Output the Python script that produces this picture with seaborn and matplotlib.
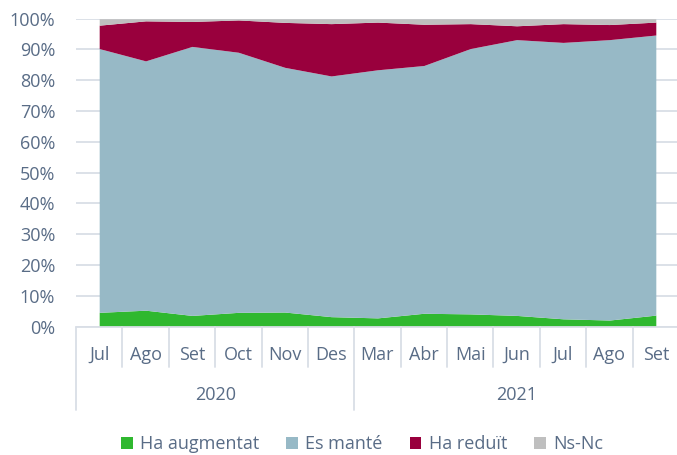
import matplotlib
matplotlib.use("Agg")
import matplotlib.pyplot as plt
import matplotlib.transforms as mtransforms
from matplotlib.patches import Patch
import seaborn as sns
import numpy as np

months = ["Jul", "Ago", "Set", "Oct", "Nov", "Des", "Mar", "Abr", "Mai", "Jun", "Jul", "Ago", "Set"]
years = ["2020", "2021"]
year_counts = [6, 7]

ha_augmentat = [4.6, 5.3, 3.6, 4.6, 4.7, 3.2, 2.8, 4.3, 4.1, 3.6, 2.5, 2.1, 3.7]
es_mante = [85.7, 81.0, 87.4, 84.5, 79.5, 78.2, 80.6, 80.5, 86.2, 89.6, 89.8, 91.1, 91.0]
ha_reduit = [7.6, 13.0, 8.1, 10.5, 14.6, 17.0, 15.5, 13.4, 8.1, 4.5, 6.1, 4.9, 4.2]
ns_nc = [2.1, 0.7, 0.9, 0.4, 1.2, 1.6, 1.1, 1.8, 1.6, 2.3, 1.6, 1.9, 1.1]

series_names = ["Ha augmentat", "Es manté", "Ha reduït", "Ns-Nc"]
colors = ["#2FB82F", "#97B9C6", "#99003D", "#BFBFBF"]

sns.set_theme(style="white")
plt.rcParams["font.family"] = ["Open Sans", "DejaVu Sans"]
text_color = "#596C86"
grid_color = "#D9DEE6"
fs = 13

W, H = 677, 455
fig = plt.figure(figsize=(W / 100, H / 100), dpi=100)
ax_left, ax_bottom, ax_top = 76, 326.5, 18.7
ax = fig.add_axes([ax_left / W, (H - ax_bottom) / H, 1 - ax_left / W, (ax_bottom - ax_top) / H])

x = np.arange(len(months))
ax.stackplot(x, ha_augmentat, es_mante, ha_reduit, ns_nc, colors=colors, linewidth=0)

ax.set_xlim(-0.5, 12.5 - (679 - W) / 46.4)
ax.set_ylim(0, 100)
ax.set_yticks(np.arange(0, 101, 10))
ax.set_yticklabels([f"{v}%" for v in range(0, 101, 10)], color=text_color, fontsize=fs)
ax.tick_params(axis="y", length=0, pad=15)
ax.set_xticks([])
ax.yaxis.grid(True, color=grid_color, linewidth=1.3)
ax.set_axisbelow(True)
for s in ax.spines.values():
    s.set_visible(False)

# category axis: baseline, separators, month and year labels
trans = mtransforms.blended_transform_factory(ax.transData, ax.transAxes)
axh = ax_bottom - ax_top
ax.plot([-0.5, 12.6], [0, 0], transform=trans, color=grid_color, lw=1.3, clip_on=False)
boundaries = np.arange(-0.5, 13, 1.0)
year_edges = [-0.5, 5.5]
for b in boundaries:
    depth = 83 if b in year_edges else 40
    ax.plot([b, b], [0, -depth / axh], transform=trans, color=grid_color, lw=1.3, clip_on=False)
for i, m in enumerate(months):
    ax.text(i, -28 / axh, m, transform=trans, ha="center", va="center", fontsize=fs, color=text_color)
start = 0
for yr, n in zip(years, year_counts):
    ax.text(start + (n - 1) / 2, -69 / axh, yr, transform=trans, ha="center", va="center",
            fontsize=fs, color=text_color)
    start += n

handles = [Patch(facecolor=c, edgecolor="none") for c in colors]
fig.legend(handles, series_names, loc="center", bbox_to_anchor=(362 / W, 1 - 444 / H), ncol=4,
           frameon=False, fontsize=fs, labelcolor=text_color, handlelength=0.65, handleheight=0.65,
           handletextpad=0.4, columnspacing=1.5)

fig.savefig("out.png", dpi=100)
